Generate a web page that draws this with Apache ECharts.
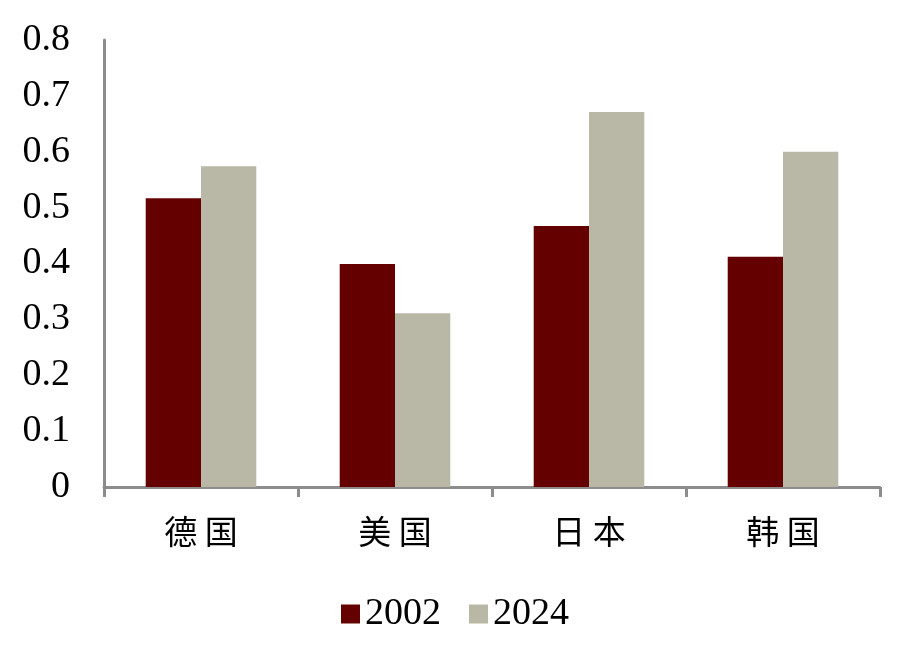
<!DOCTYPE html>
<html>
<head>
<meta charset="utf-8">
<script src="https://cdn.jsdelivr.net/npm/echarts@6/dist/echarts.min.js"></script>
<style>
  html, body { margin: 0; padding: 0; background: #fff; }
  #main { width: 910px; height: 650px; }
</style>
</head>
<body>
<div id="main"></div>
<script>
// categories and values
const countries = ['德国', '美国', '日本', '韩国'];
const series2002 = [0.517, 0.399, 0.467, 0.412];
const series2024 = [0.574, 0.311, 0.671, 0.600];
const yTicks = [0, 0.1, 0.2, 0.3, 0.4, 0.5, 0.6, 0.7, 0.8];

const serif = '"Liberation Serif", "Times New Roman", serif';
const axisGray = '#8c8c8c';

let chart = echarts.init(document.getElementById('main'));
chart.setOption({
  animation: false,
  grid: { left: 104, right: 30, top: 40, bottom: 163 },
  legend: {
    bottom: 12,
    left: 'center',
    itemWidth: 19,
    itemHeight: 19,
    itemGap: 28,
    icon: 'rect',
    textStyle: { fontFamily: serif, fontSize: 38, color: '#000' },
    data: ['2002', '2024']
  },
  xAxis: {
    type: 'category',
    data: countries,
    axisLine: { lineStyle: { color: axisGray, width: 3 } },
    axisTick: { show: true, length: 10, lineStyle: { color: axisGray, width: 3 } },
    axisLabel: { fontFamily: '"Noto Sans CJK SC", sans-serif', fontSize: 33, color: '#000', margin: 28, formatter: v => v.split('').join(' ') }
  },
  yAxis: {
    type: 'value',
    min: yTicks[0],
    max: yTicks[yTicks.length - 1],
    interval: 0.1,
    splitLine: { show: false },
    axisLine: { show: true, lineStyle: { color: axisGray, width: 3 } },
    axisTick: { show: false },
    axisLabel: { fontFamily: serif, fontSize: 38, color: '#000', margin: 34, formatter: v => (Math.round(v * 10) / 10).toString() }
  },
  series: [
    { name: '2002', type: 'bar', data: series2002, barGap: '0%', barCategoryGap: '43%', itemStyle: { color: '#650000' } },
    { name: '2024', type: 'bar', data: series2024, barGap: '0%', barCategoryGap: '43%', itemStyle: { color: '#b9b8a6' } }
  ]
});
</script>
</body>
</html>
